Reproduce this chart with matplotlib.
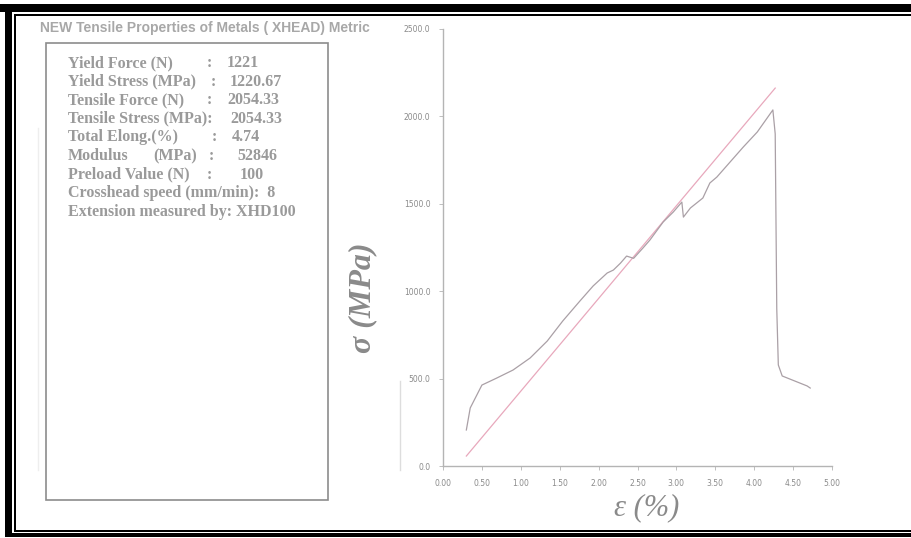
import matplotlib.pyplot as plt
from matplotlib.patches import Rectangle

# stress-strain record
strain = [0.30, 0.35, 0.50, 0.69, 0.90, 1.12, 1.34, 1.54, 1.76, 1.93,
          2.11, 2.19, 2.28, 2.36, 2.45, 2.57, 2.66, 2.83, 2.96, 3.07,
          3.09, 3.18, 3.34, 3.43, 3.52, 3.86, 4.04, 4.24, 4.27, 4.29,
          4.31, 4.36, 4.68, 4.72]
stress = [206, 332, 463, 503, 549, 618, 715, 830, 944, 1030,
          1104, 1121, 1160, 1201, 1188, 1247, 1293, 1396, 1453, 1510,
          1424, 1476, 1533, 1619, 1653, 1825, 1911, 2037, 1900, 900,
          578, 515, 458, 446]

# modulus line
mod_strain = [0.30, 4.27]
mod_stress = [57, 2162]

x_ticks = [0.0, 0.5, 1.0, 1.5, 2.0, 2.5, 3.0, 3.5, 4.0, 4.5, 5.0]
y_ticks = [0, 500, 1000, 1500, 2000, 2500]

title = "NEW Tensile Properties of Metals ( XHEAD) Metric"
# each row: list of (x pixel, text) pieces
rows = [
    [(68, "Yield Force (N)"), (207, ":"), (227, "1221")],
    [(68, "Yield Stress (MPa)"), (211, ":"), (230, "1220.67")],
    [(68, "Tensile Force (N)"), (207, ":"), (227, "2054.33")],
    [(68, "Tensile Stress (MPa):"), (230, "2054.33")],
    [(68, "Total Elong.(%)"), (212, ":"), (232, "4.74")],
    [(68, "Modulus"), (153, "(MPa)"), (209, ":"), (237, "52846")],
    [(68, "Preload Value (N)"), (207, ":"), (240, "100")],
    [(68, "Crosshead speed (mm/min):  8")],
    [(68, "Extension measured by: XHD100")],
]

W, H = 912, 538
fig = plt.figure(figsize=(W / 100, H / 100), dpi=100)
fig.patch.set_facecolor("white")

# overlay in pixel coordinates for border, title and info box
ov = fig.add_axes([0, 0, 1, 1])
ov.set_xlim(0, W)
ov.set_ylim(H, 0)
ov.axis("off")

# double border (right side is cropped in the scan)
ov.add_patch(Rectangle((0, 4), W, 8, color="black", lw=0))
ov.add_patch(Rectangle((14, 13.5), W, 2.5, color="black", lw=0))
ov.add_patch(Rectangle((5, 4), 7, 533, color="black", lw=0))
ov.add_patch(Rectangle((14, 13.5), 2.5, 518, color="black", lw=0))
ov.add_patch(Rectangle((5, 533), W, 4, color="black", lw=0))
ov.add_patch(Rectangle((14, 529.5), W, 2.5, color="black", lw=0))

# faint ghost lines left in the scan
ov.plot([38, 38], [128, 470], color="#eeeeee", lw=1)
ov.plot([400, 400], [381, 470], color="#dddddd", lw=1)

ov.text(40, 28, title, fontsize=10, fontweight="bold", color="#a8a8a8",
        family="Liberation Sans", va="center", ha="left")

ov.add_patch(Rectangle((46, 43), 282, 457, fill=False,
                       edgecolor="#8c8c8c", lw=1.2))

y = 63
for row in rows:
    for px, txt in row:
        ov.text(px, y, txt, fontsize=11.5, fontweight="bold",
                color="#9a9a9a", family="Liberation Serif",
                va="center", ha="left")
    y += 18.6

ov.text(363, 298, "\u03c3 (MPa)", fontsize=23, fontweight="bold",
        fontstyle="italic", color="#8a8a8a", family="Liberation Serif",
        rotation=90, ha="center", va="center")
ov.text(647, 508, "\u03b5 (%)", fontsize=22, fontstyle="italic",
        color="#8a8a8a", family="Liberation Serif", ha="center", va="center")

# the chart itself
ax = fig.add_axes([443 / W, 1 - 466 / H, 389 / W, 437 / H])
ax.patch.set_alpha(0)
ax.plot(mod_strain, mod_stress, color="#e8a8bc", lw=0.9)
ax.plot(strain, stress, color="#aaa0a6", lw=0.9)
ax.set_xlim(0, 5.0)
ax.set_ylim(0, 2500)
ax.set_xticks(x_ticks)
ax.set_xticklabels([f"{v:.2f}" for v in x_ticks])
ax.set_yticks(y_ticks)
ax.set_yticklabels([f"{v:.1f}" for v in y_ticks])
for side in ["top", "right"]:
    ax.spines[side].set_visible(False)
for side in ["left", "bottom"]:
    ax.spines[side].set_color("#b4b4b4")
    ax.spines[side].set_linewidth(1.0)
ax.tick_params(length=3, width=0.6, color="#b4b4b4", labelsize=5.5,
               labelcolor="#8a8a8a", pad=6)

fig.savefig("out.png", dpi=100)
